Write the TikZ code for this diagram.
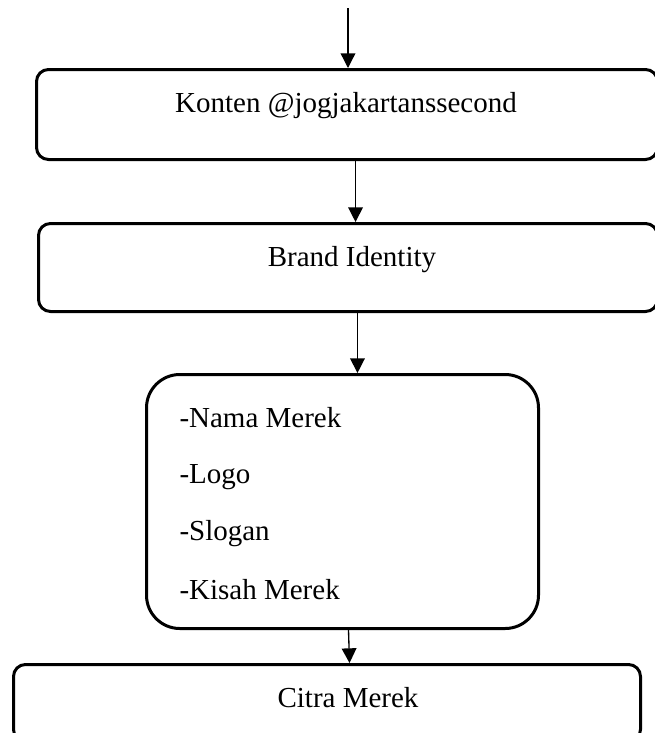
\documentclass[tikz,border=0pt]{standalone}
\usepackage{fontspec}
\setmainfont{Liberation Serif}
\usetikzlibrary{arrows.meta}

\tikzset{every picture/.style={line width=0.75pt}}
\tikzset{
  flowbox/.style={draw, line width=2.25pt, rounded corners=9pt, inner sep=0pt, anchor=north west},
  flowarrow/.style={line width=1pt, -{Triangle[width=11pt,length=11pt]}},
  flowtext/.style={inner sep=0.75pt, font=\fontsize{21.75}{26}\selectfont}
}

\begin{document}
\begin{tikzpicture}[x=0.75pt,y=0.75pt,yscale=-1,xscale=1]
\useasboundingbox (0,0) rectangle (655,733);

%Rounded Rect: Konten
\node [flowbox, minimum width=465.75pt, minimum height=67.5pt] (konten) at (35,68) {};
%Rounded Rect: Brand Identity
\node [flowbox, minimum width=464.25pt, minimum height=66pt] (brand) at (37,222) {};
%Rounded Rect: list of elements
\node [flowbox, rounded corners=25pt, minimum width=294pt, minimum height=190.5pt] (elemen) at (145,373) {};
%Rounded Rect: Citra Merek
\node [flowbox, minimum width=470.25pt, minimum height=57.75pt] (citra) at (12,663) {};

%Straight Lines
\coordinate (start) at (348,8) ;
\draw [flowarrow] (start) -- (start |- konten.north) ;
\draw [flowarrow] ([xshift=6.4pt]konten.south) -- ([xshift=6.4pt]konten.south |- brand.north) ;
\draw [flowarrow] ([xshift=7.1pt]brand.south) -- ([xshift=7.1pt]brand.south |- elemen.north) ;
\draw [flowarrow] ([xshift=4.5pt]elemen.south) -- ([xshift=16.9pt]citra.north) ;

% Text Node
\draw (346,106) node [flowtext] (tkonten) {Konten @jogjakartanssecond};
\draw (352,260) node [flowtext] (tbrand) {Brand Identity};
\draw (178,418) node [flowtext, anchor=west] (tnama) {-Nama Merek};
\draw (178,477) node [flowtext, anchor=west] (tlogo) {-Logo};
\draw (178,534) node [flowtext, anchor=west] (tslogan) {-Slogan};
\draw (178,590) node [flowtext, anchor=west] (tkisah) {-Kisah Merek};
\draw (348,698) node [flowtext] (tcitra) {Citra Merek};

\end{tikzpicture}
\end{document}
